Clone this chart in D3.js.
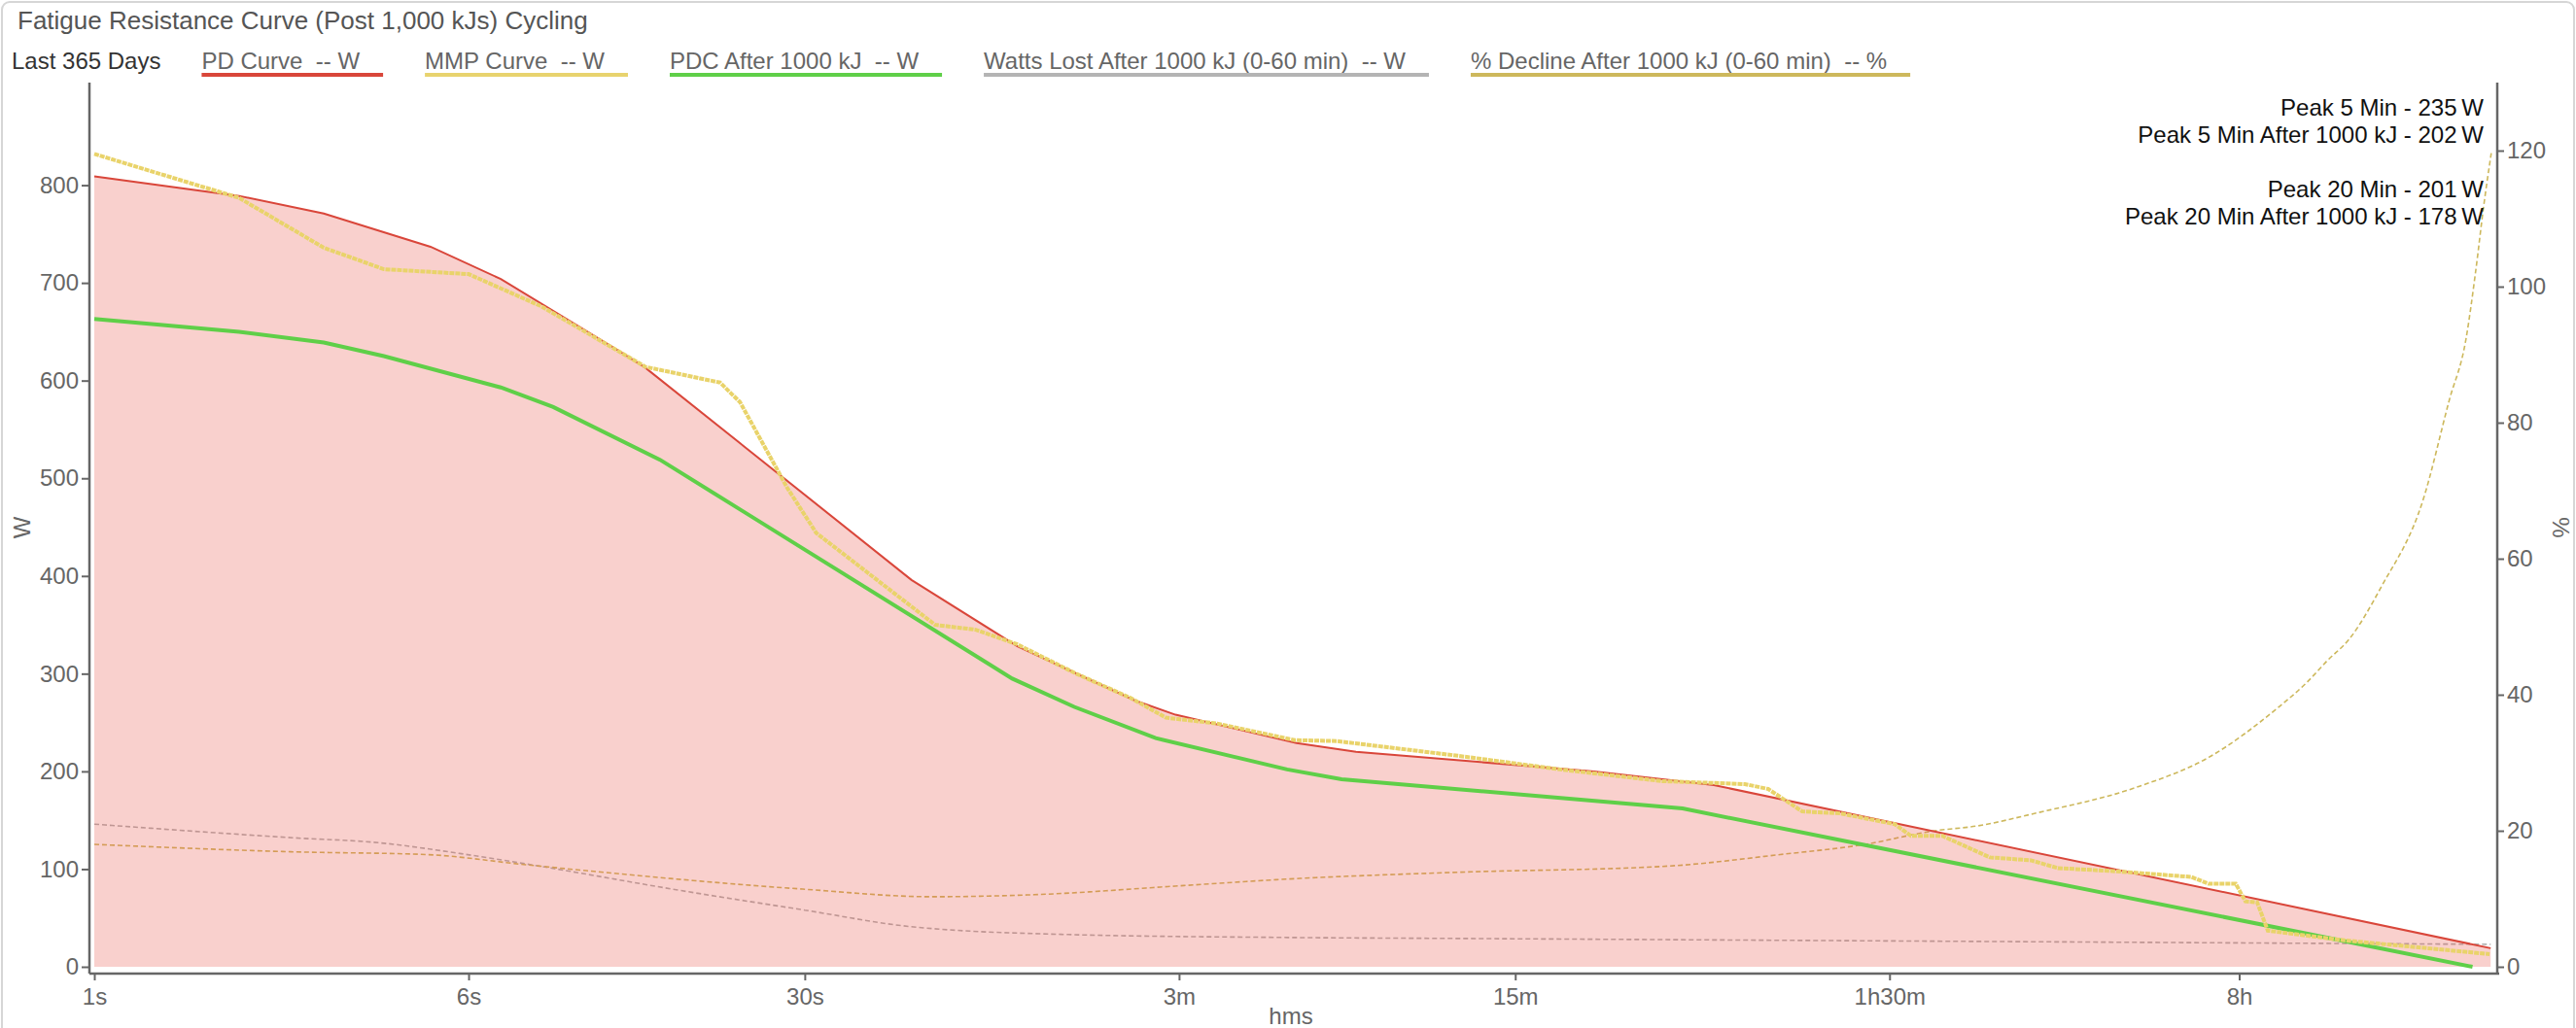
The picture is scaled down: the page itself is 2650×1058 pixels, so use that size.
<!DOCTYPE html>
<html>
<head>
<meta charset="utf-8">
<script src="https://cdn.jsdelivr.net/npm/d3@7"></script>
<style>
  html, body { margin: 0; padding: 0; background: #fff; }
  svg { display: block; font-family: "Liberation Sans", Arial, sans-serif; }
  text { white-space: pre; }
</style>
</head>
<body>
<svg id="chart" width="2650" height="1058"></svg>
<script>
// Fatigue resistance curve: durations in seconds, power in W, decline in %

const pdDur   = [1, 2, 3, 5, 7, 12, 14, 50, 83, 145, 177, 316, 420, 1313, 2329, 96000];
const pdWatts = [809, 789, 771, 737, 704, 634, 613, 396, 328, 273, 258, 229, 220, 200, 186, 19];

const mmpDur   = [1, 2, 3, 4, 6, 8.5, 14, 20, 22, 27.6, 31.7, 56, 68, 83, 110, 143, 169, 216, 313, 383,
                  684, 1116, 1820, 2702, 3020, 3556, 4266, 5535, 5985, 6955, 8730, 10620, 12090, 15700,
                  22880, 24870, 28330, 29670, 31380, 33030, 47730, 95500];
const mmpWatts = [832, 787, 736, 714, 709, 676, 614, 598, 578, 490, 444, 350, 345, 330, 300, 275, 255, 249, 232, 231,
                  216, 202, 190, 187, 182, 159, 157, 146, 134, 134, 112, 109, 101, 98,
                  92, 85, 85, 67, 66, 37, 27, 13];

const pdcDur   = [1, 2, 3, 4, 7, 9, 15, 81, 109, 161, 302, 392, 2005, 88000];
const pdcWatts = [663, 650, 639, 625, 593, 573, 519, 295, 266, 234, 202, 192, 162, 0];

const lostDur   = [1, 2.6, 3.9, 5.75, 8.2, 16.6, 30, 50, 106, 303, 684, 96000];
const lostWatts = [146, 132, 127, 116, 104, 78, 58, 41, 33, 30, 29, 23];

const declDur = [1, 2.6, 4.9, 7.9, 30, 55, 90, 180, 303, 684, 1866, 3200, 4800, 6700, 8200, 10900,
                 17800, 24900, 34400, 39800, 43900, 48800, 56900, 69500, 78800, 85300, 89400, 92900, 96300];
const declPct = [18.0, 16.9, 16.5, 15.0, 11.4, 10.3, 10.6, 11.9, 12.9, 13.9, 14.8, 16.5, 18.0, 20.0, 20.7, 22.6,
                 26.5, 30.8, 37.9, 41.8, 45, 48.2, 55.9, 68.7, 83.4, 92.3, 102.4, 112, 119.7];

const xTickVals   = [1, 6, 30, 180, 900, 5400, 28800];
const xTickLabels = ["1s", "6s", "30s", "3m", "15m", "1h30m", "8h"];
const wTicks   = [0, 100, 200, 300, 400, 500, 600, 700, 800];
const pctTicks = [0, 20, 40, 60, 80, 100, 120];

const legendItems = [
    { label: "PD Curve  -- W", color: "#d9463a" },
    { label: "MMP Curve  -- W", color: "#e8d36e" },
    { label: "PDC After 1000 kJ  -- W", color: "#5fcf48" },
    { label: "Watts Lost After 1000 kJ (0-60 min)  -- W", color: "#b4b4b4" },
    { label: "% Decline After 1000 kJ (0-60 min)  -- %", color: "#cdb85c" },
];

const peakLines = [
    ["Peak 5 Min - 235\u2009W", "Peak 5 Min After 1000 kJ - 202\u2009W"],
    ["Peak 20 Min - 201\u2009W", "Peak 20 Min After 1000 kJ - 178\u2009W"],
];

const zip = (a, b) => a.map((d, i) => [d, b[i]]);

// ---- layout ----

const svg = d3.select("#chart");
const plotLeft = 92, plotRight = 2569, plotTop = 85, plotBottom = 1002;

const x = d3.scaleLog().domain([1, 1e5]).range([97, 2571]);
const yW = d3.scaleLinear().domain([0, 905]).range([995, plotTop]);
const yP = d3.scaleLinear().domain([0, 130]).range([995, plotTop]);

// card frame
svg.append("rect")
    .attr("x", 2).attr("y", 2).attr("width", 2646).attr("height", 1080)
    .attr("rx", 8).attr("fill", "none")
    .attr("stroke", "#d6d6d6").attr("stroke-width", 2);

svg.append("text")
    .attr("x", 18).attr("y", 30)
    .attr("font-size", 26).attr("fill", "#555")
    .text("Fatigue Resistance Curve (Post 1,000 kJs) Cycling");

// ---- legend ----

const legend = svg.append("g");
const lastTxt = legend.append("text")
    .attr("x", 12).attr("y", 71)
    .attr("font-size", 24).attr("fill", "#333")
    .text("Last 365 Days");

let lx = 12 + lastTxt.node().getComputedTextLength() + 42;
legendItems.forEach(item => {
    const t = legend.append("text")
        .attr("x", lx).attr("y", 71)
        .attr("font-size", 24).attr("fill", "#666")
        .text(item.label);
    const w = t.node().getComputedTextLength() + 24;
    legend.append("line")
        .attr("x1", lx).attr("x2", lx + w)
        .attr("y1", 77).attr("y2", 77)
        .attr("stroke", item.color).attr("stroke-width", 4);
    lx += w + 43;
});

// ---- series ----

const lineW = d3.line().x(d => x(d[0])).y(d => yW(d[1]));
const lineP = d3.line().x(d => x(d[0])).y(d => yP(d[1])).curve(d3.curveMonotoneX);
const lineWs = d3.line().x(d => x(d[0])).y(d => yW(d[1])).curve(d3.curveMonotoneX);

svg.append("path")
    .datum(zip(lostDur, lostWatts))
    .attr("d", lineWs)
    .attr("fill", "none").attr("stroke", "#b0b0b0")
    .attr("stroke-width", 1.6).attr("stroke-dasharray", "5,3");

svg.append("path")
    .datum(zip(declDur, declPct))
    .attr("d", lineP)
    .attr("fill", "none").attr("stroke", "#cdb85c")
    .attr("stroke-width", 1.6).attr("stroke-dasharray", "5,3");

const area = d3.area()
    .x(d => x(d[0]))
    .y0(yW(0))
    .y1(d => yW(d[1]));

svg.append("path")
    .datum(zip(pdDur, pdWatts))
    .attr("d", area)
    .attr("fill", "rgb(232,80,70)").attr("fill-opacity", 0.27);

svg.append("path")
    .datum(zip(pdDur, pdWatts))
    .attr("d", lineW)
    .attr("fill", "none").attr("stroke", "#d9463a").attr("stroke-width", 2);

svg.append("path")
    .datum(zip(pdcDur, pdcWatts))
    .attr("d", lineW)
    .attr("fill", "none").attr("stroke", "#5fcf48").attr("stroke-width", 4);

svg.append("path")
    .datum(zip(mmpDur, mmpWatts))
    .attr("d", lineW)
    .attr("fill", "none").attr("stroke", "#e9d36a")
    .attr("stroke-width", 4).attr("stroke-dasharray", "5,1");

// ---- axes ----

const axisColor = "#666";

const gx = svg.append("g")
    .attr("transform", `translate(0,${plotBottom})`)
    .call(d3.axisBottom(x)
        .tickValues(xTickVals)
        .tickFormat((d, i) => xTickLabels[i])
        .tickSize(7).tickSizeOuter(0).tickPadding(8));

const gl = svg.append("g")
    .attr("transform", `translate(${plotLeft},0)`)
    .call(d3.axisLeft(yW).tickValues(wTicks).tickSize(8).tickSizeOuter(0).tickPadding(3));

const gr = svg.append("g")
    .attr("transform", `translate(${plotRight},0)`)
    .call(d3.axisRight(yP).tickValues(pctTicks).tickSize(7).tickSizeOuter(0).tickPadding(3));

[gx, gl, gr].forEach(g => {
    g.select(".domain").remove();
    g.selectAll(".tick line").attr("stroke", axisColor).attr("stroke-width", 2);
    g.selectAll(".tick text")
        .attr("fill", axisColor).attr("font-size", 24)
        .attr("font-family", "Liberation Sans, Arial, sans-serif");
});

// axis lines
svg.append("line")
    .attr("x1", plotLeft).attr("x2", plotRight + 2).attr("y1", plotBottom).attr("y2", plotBottom)
    .attr("stroke", axisColor).attr("stroke-width", 2.5);
svg.append("line")
    .attr("x1", plotLeft).attr("x2", plotLeft).attr("y1", plotTop).attr("y2", plotBottom)
    .attr("stroke", axisColor).attr("stroke-width", 2.5);
svg.append("line")
    .attr("x1", plotRight).attr("x2", plotRight).attr("y1", plotTop).attr("y2", plotBottom)
    .attr("stroke", axisColor).attr("stroke-width", 2.5);

svg.append("text")
    .attr("transform", "translate(31,543) rotate(-90)")
    .attr("text-anchor", "middle")
    .attr("font-size", 24).attr("fill", axisColor)
    .text("W");

svg.append("text")
    .attr("transform", "translate(2626,543) rotate(90)")
    .attr("text-anchor", "middle")
    .attr("font-size", 24).attr("fill", axisColor)
    .text("%");

svg.append("text")
    .attr("x", 1328).attr("y", 1054)
    .attr("text-anchor", "middle")
    .attr("font-size", 24).attr("fill", axisColor)
    .text("hms");

// ---- peak notes ----

const notes = svg.append("g").attr("text-anchor", "end");
peakLines.forEach((pair, gi) => {
    pair.forEach((s, li) => {
        notes.append("text")
            .attr("x", 2555)
            .attr("y", 119 + gi * 84 + li * 28)
            .attr("font-size", 24).attr("fill", "#111")
            .text(s);
    });
});
</script>
</body>
</html>
